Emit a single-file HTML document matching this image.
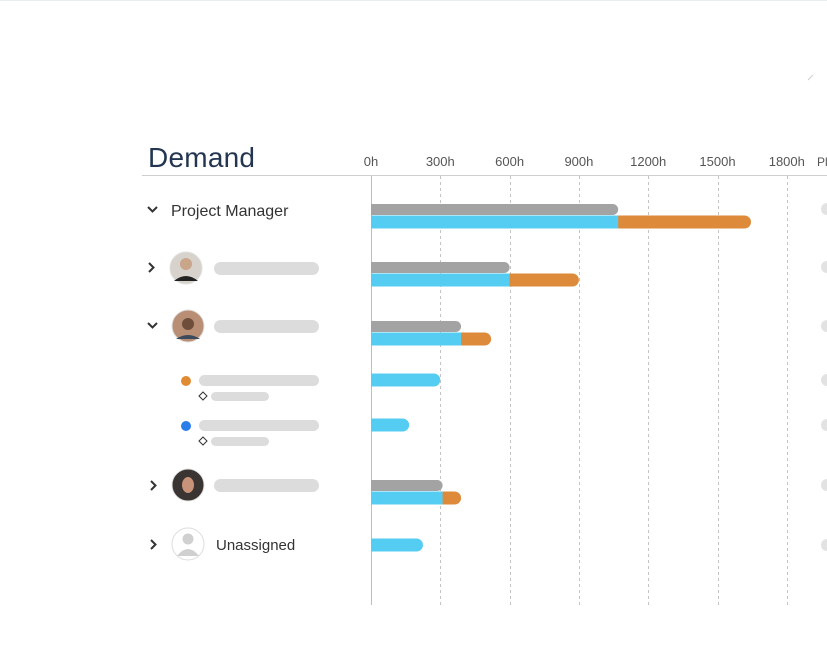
<!DOCTYPE html>
<html><head><meta charset="utf-8"><style>
html,body{margin:0;padding:0;background:#fff;width:827px;height:663px;overflow:hidden;font-family:"Liberation Sans",sans-serif}
</style></head><body>
<svg id="chart" width="827" height="663" viewBox="0 0 827 663" xmlns="http://www.w3.org/2000/svg">
<line x1="0" y1="0.5" x2="827" y2="0.5" stroke="#e8eef0"/>
<line x1="808" y1="80" x2="813" y2="75" stroke="#ccc"/>
<text x="148" y="167" font-size="28" fill="#233551" textLength="107">Demand</text>
<text x="817" y="166" font-size="12" fill="#555">Pl</text>
<line x1="142" y1="175.5" x2="827" y2="175.5" stroke="#cfcfcf"/>
<g id="grid"></g>
<line x1="371.5" y1="176" x2="371.5" y2="605" stroke="#bdbdbd"/>
<g id="bars"></g>
<g id="labels">
  <path d="M148 207 l4.5 4.5 l4.5 -4.5" fill="none" stroke="#333" stroke-width="2"/>
  <text x="171" y="216" font-size="16" fill="#333">Project Manager</text>

  <path d="M149 263 l4.5 4.5 l-4.5 4.5" fill="none" stroke="#333" stroke-width="2"/>
  <circle cx="186" cy="268" r="16" fill="#d8d2cc" stroke="#e0e0e0"/>
  <circle cx="186" cy="264" r="6" fill="#c9a58a"/><path d="M174 281 q12 -10 24 0 z" fill="#222"/>
  <rect x="214" y="262" width="105" height="13" rx="6.5" fill="#dcdcdc"/>

  <path d="M148 323 l4.5 4.5 l4.5 -4.5" fill="none" stroke="#333" stroke-width="2"/>
  <circle cx="188" cy="326" r="16" fill="#b88f74" stroke="#e0e0e0"/>
  <circle cx="188" cy="324" r="6" fill="#6e4d3a"/><path d="M176 339 q12 -8 24 0 z" fill="#3b4a5c"/>
  <rect x="214" y="320" width="105" height="13" rx="6.5" fill="#dcdcdc"/>

  <circle cx="186" cy="381" r="5" fill="#e08a34"/>
  <rect x="199" y="375" width="120" height="11" rx="5.5" fill="#dcdcdc"/>
  <path d="M203 392 l4 4 l-4 4 l-4 -4 z" fill="#fff" stroke="#333"/>
  <rect x="211" y="392" width="58" height="9" rx="4.5" fill="#dcdcdc"/>

  <circle cx="186" cy="426" r="5" fill="#2b7de9"/>
  <rect x="199" y="420" width="120" height="11" rx="5.5" fill="#dcdcdc"/>
  <path d="M203 437 l4 4 l-4 4 l-4 -4 z" fill="#fff" stroke="#333"/>
  <rect x="211" y="437" width="58" height="9" rx="4.5" fill="#dcdcdc"/>

  <path d="M151 481 l4.5 4.5 l-4.5 4.5" fill="none" stroke="#333" stroke-width="2"/>
  <circle cx="188" cy="485" r="16" fill="#3a3533" stroke="#e0e0e0"/>
  <ellipse cx="188" cy="485" rx="6" ry="8" fill="#c9937a"/>
  <rect x="214" y="479" width="105" height="13" rx="6.5" fill="#dcdcdc"/>

  <path d="M151 540 l4.5 4.5 l-4.5 4.5" fill="none" stroke="#333" stroke-width="2"/>
  <circle cx="188" cy="544" r="16" fill="#fff" stroke="#ddd"/>
  <circle cx="188" cy="539" r="5.5" fill="#d0d0d0"/><path d="M177 556 q11 -14 22 0 z" fill="#d0d0d0"/>
  <text x="216" y="550" font-size="15" fill="#333">Unassigned</text>
</g>
<g id="rightdots"></g>
</svg>
<script>
const ticks = [0,300,600,900,1200,1500,1800];
const tickLabels = ["0h","300h","600h","900h","1200h","1500h","1800h"];
const rowNames = ["project-manager","person-1","person-2","task-1","task-2","person-3","unassigned"];
const rowY = [209,267,326,380,425,485,545];
const capacity = [1070,600,390,null,null,310,null];
const assigned = [1070,600,390,300,165,310,225];
const total = [1645,900,520,300,165,390,225];
const NS="http://www.w3.org/2000/svg";
const x0=371, pxPerH=69.3/300;
const X=v=>x0+v*pxPerH;
function mk(tag,attrs,parent){const e=document.createElementNS(NS,tag);for(const k in attrs)e.setAttribute(k,attrs[k]);parent.appendChild(e);return e;}
const grid=document.getElementById('grid'), bars=document.getElementById('bars'), rd=document.getElementById('rightdots');
ticks.forEach((t,i)=>{
  const x=X(t);
  const lab=mk('text',{x:x,y:166,'font-size':13,fill:'#555','text-anchor':'middle'},grid);
  lab.textContent=tickLabels[i];
  
  
  if(t>0){
    const l=mk('line',{x1:Math.round(x)+0.5,y1:176,x2:Math.round(x)+0.5,y2:605,stroke:'#c4c4c4','stroke-dasharray':'3,3'},grid);
    
    
  }
});
function roundBar(x1,x2,y,h,fill,name){
  const r=h/2;
  const d=`M${x1} ${y} H${x2-r} A${r} ${r} 0 0 1 ${x2-r} ${y+h} H${x1} Z`;
  const p=mk('path',{d:d,fill:fill},bars);
  
  
}
rowY.forEach((y,i)=>{
  let by=y;
  if(capacity[i]!==null){
    roundBar(x0,X(capacity[i]),y-5,11,'#a3a3a3','capacity-bar-'+rowNames[i]);
    by=y+13;
  }
  const h=13, top=by-6.5;
  if(total[i]>assigned[i]){
    roundBar(x0,X(total[i]),top,h,'#dd8a3a','overflow-bar-'+rowNames[i]);
    const b=mk('rect',{x:x0,y:top,width:X(assigned[i])-x0,height:h,fill:'#55ccf2'},bars);
    
    
  } else {
    roundBar(x0,X(assigned[i]),top,h,'#55ccf2','assigned-bar-'+rowNames[i]);
  }
  const c=mk('circle',{cx:827,cy:y,r:6,fill:'#e2e2e2'},rd);
  
  
});
</script>
</body></html>
